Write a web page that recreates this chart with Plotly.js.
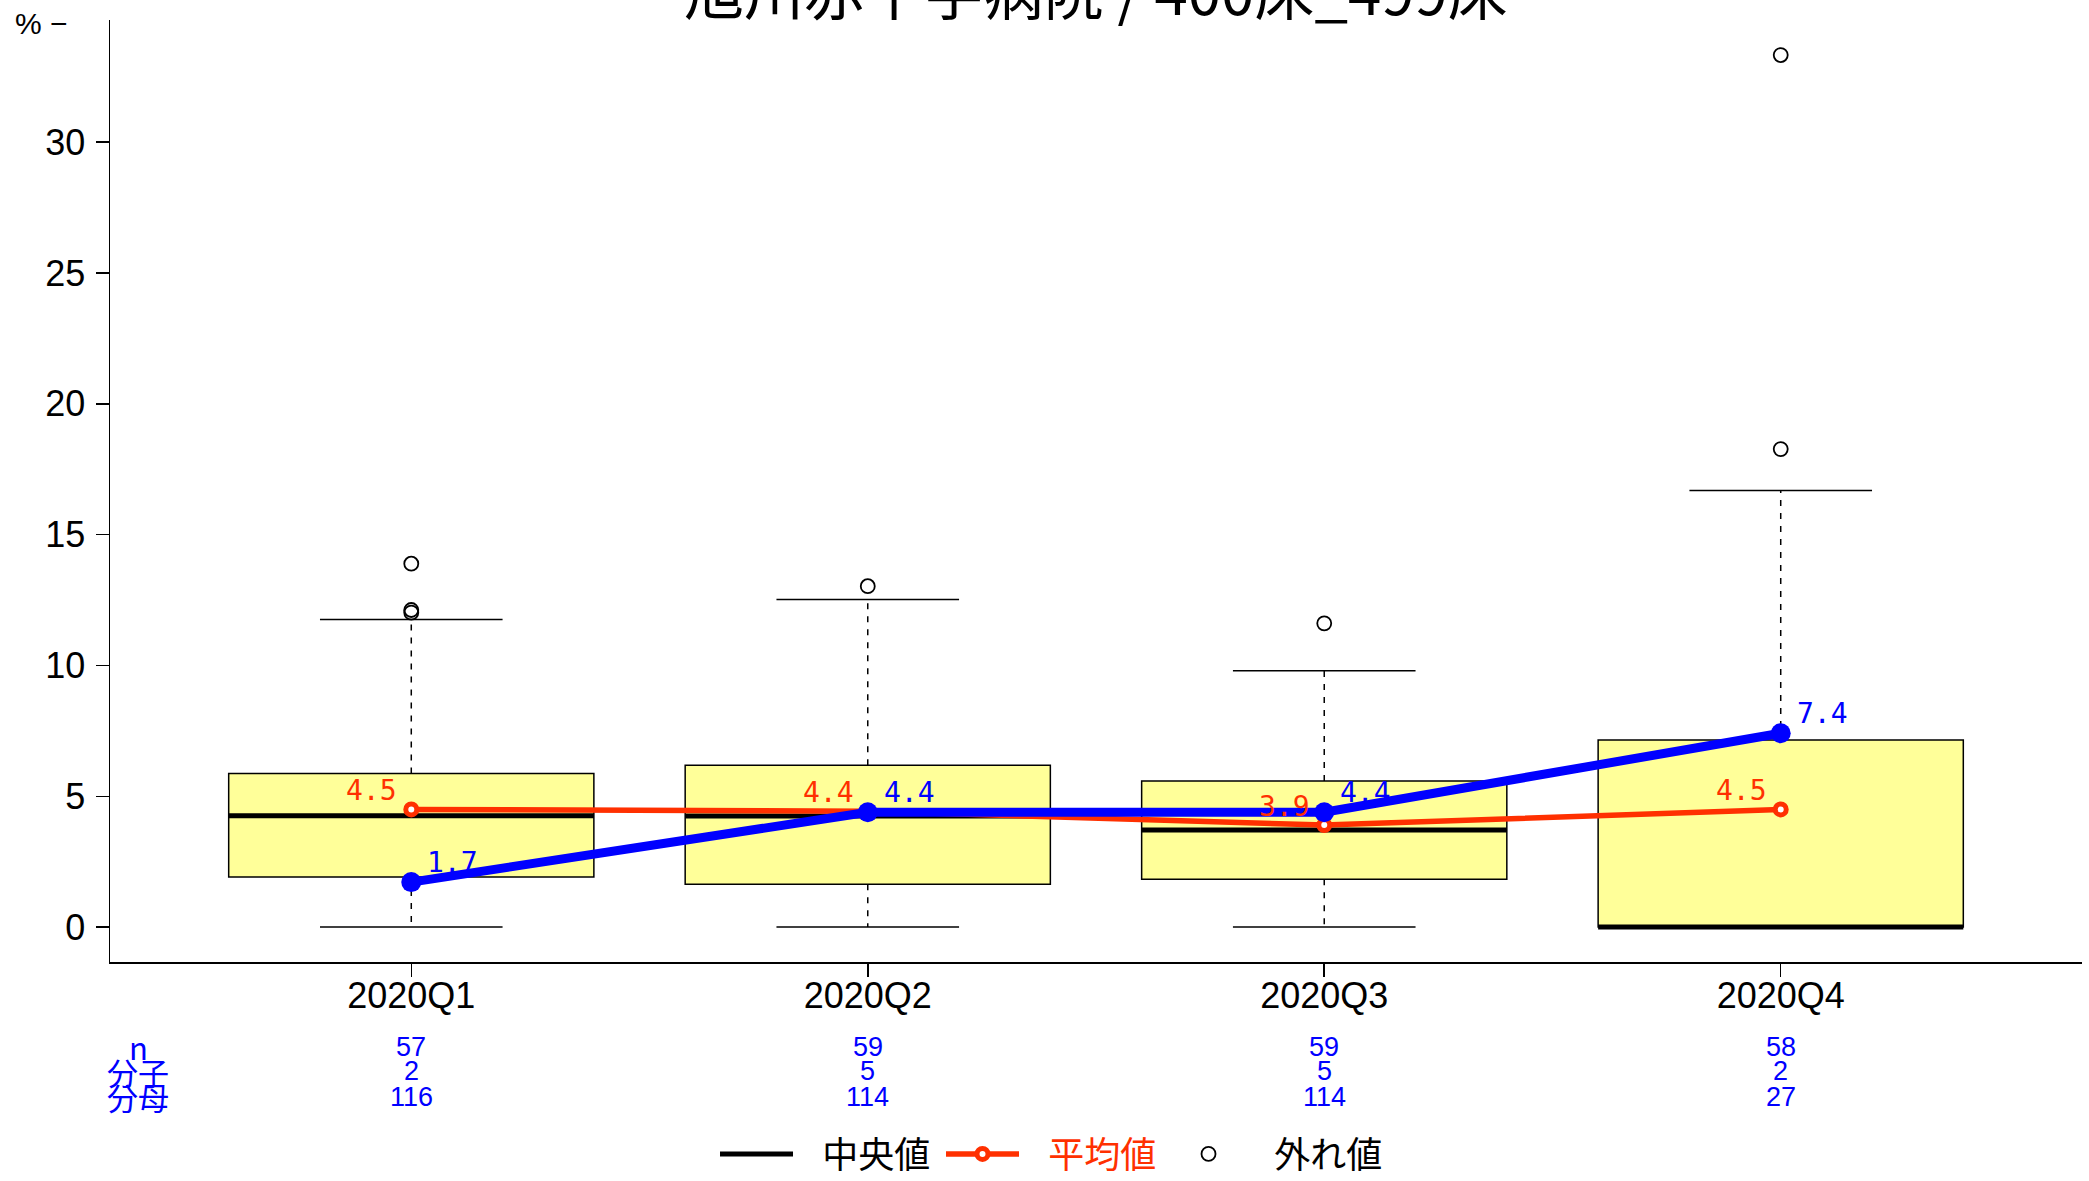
<!DOCTYPE html>
<html>
<head>
<meta charset="utf-8">
<script src="https://cdn.plot.ly/plotly-3.0.1.min.js"></script>
<style>html,body{margin:0;padding:0;background:#fff;}#chart{width:2089px;height:1181px;}</style>
</head>
<body>
<div id="chart"></div>
<script>
// ---- data ----
const categories = ['2020Q1', '2020Q2', '2020Q3', '2020Q4'];
const q1 = [1.92, 1.64, 1.83, 0.00];
const median = [4.26, 4.25, 3.71, 0.00];
const q3 = [5.87, 6.19, 5.58, 7.15];
const lowerWhisker = [0, 0, 0, 0];
const upperWhisker = [11.76, 12.52, 9.80, 16.69];
const outlierCat = [0, 0, 0, 1, 2, 3, 3];
const outlierVal = [13.89, 12.12, 12.02, 13.03, 11.61, 18.27, 33.33];
const meanVal = [4.50, 4.43, 3.90, 4.50];
const hospitalVal = [1.72, 4.39, 4.39, 7.41];
const nRow = [57, 59, 59, 58];
const numerRow = [2, 5, 5, 2];
const denomRow = [116, 114, 114, 27];
const rowLabels = ['n', '分子', '分母'];
const legendNames = ['中央値', '平均値', '外れ値'];
const titleText = '旭川赤十字病院 / 400床_499床';
const yUnit = '% −';

// ---- styles ----
const RED = '#FF3000';
const BLUE = '#0000FF';
const FONT = 'Liberation Sans, Arial, Noto Sans CJK JP, sans-serif';
const CJK = 'Noto Sans CJK JP, Liberation Sans, sans-serif';
const MONO = 'DejaVu Sans Mono, monospace';
const xs = categories.map((c, i) => i);
const boxW = 0.8, capHalf = 0.2;
const PADNAME = '\u00a0\u00a0\u00a0';

const whiskX = [], whiskY = [], capX = [], capY = [], medX = [], medY = [];
xs.forEach((x, i) => {
  whiskX.push(x, x, null, x, x, null);
  whiskY.push(q3[i], upperWhisker[i], null, q1[i], lowerWhisker[i], null);
  capX.push(x - capHalf, x + capHalf, null, x - capHalf, x + capHalf, null);
  capY.push(upperWhisker[i], upperWhisker[i], null, lowerWhisker[i], lowerWhisker[i], null);
  medX.push(x - boxW / 2, x + boxW / 2, null);
  medY.push(median[i], median[i], null);
});

const traces = [
  {
    type: 'box', x: xs, q1: q1, median: median, q3: q3,
    lowerfence: q1, upperfence: q3, width: boxW, whiskerwidth: 0,
    fillcolor: '#FFFF99', line: {color: '#000', width: 1.5},
    boxpoints: false, showlegend: false, hoverinfo: 'skip'
  },
  {
    type: 'scatter', mode: 'lines', x: whiskX, y: whiskY,
    line: {color: '#000', width: 1.5, dash: '6px,7px'},
    showlegend: false, hoverinfo: 'skip'
  },
  {
    type: 'scatter', mode: 'lines', x: capX, y: capY,
    line: {color: '#000', width: 1.5},
    showlegend: false, hoverinfo: 'skip'
  },
  {
    type: 'scatter', mode: 'lines', x: medX, y: medY, name: PADNAME + legendNames[0],
    line: {color: '#000', width: 5}, legendrank: 1
  },
  {
    type: 'scatter', mode: 'markers', x: outlierCat, y: outlierVal, name: PADNAME + legendNames[2],
    marker: {symbol: 'circle-open', size: 14, color: '#000', line: {width: 1.8, color: '#000'}},
    legendrank: 3
  },
  {
    type: 'scatter', mode: 'lines+markers', x: xs, y: meanVal,
    name: PADNAME + '<span style="color:' + RED + '">' + legendNames[1] + '</span>',
    line: {color: RED, width: 5.5},
    marker: {symbol: 'circle', size: 11, color: '#fff', line: {color: RED, width: 5}},
    legendrank: 2
  },
  {
    type: 'scatter', mode: 'lines+markers', x: xs, y: hospitalVal,
    line: {color: BLUE, width: 9},
    marker: {symbol: 'circle', size: 20, color: BLUE},
    showlegend: false
  }
];

const annotations = [];
// value labels next to mean / hospital points
xs.forEach((x, i) => {
  annotations.push({
    xref: 'x', yref: 'y', x: x, y: meanVal[i], text: meanVal[i].toFixed(1),
    showarrow: false, xanchor: 'right', yanchor: 'middle', xshift: -12, yshift: 19,
    font: {family: MONO, size: 28, color: RED}
  });
  annotations.push({
    xref: 'x', yref: 'y', x: x, y: hospitalVal[i], text: hospitalVal[i].toFixed(1),
    showarrow: false, xanchor: 'left', yanchor: 'middle', xshift: 14, yshift: 20,
    font: {family: MONO, size: 28, color: BLUE}
  });
});

// stats table annotations
const rowY = [-0.0902, -0.1162, -0.1433];
const rows = [nRow, numerRow, denomRow];
rows.forEach((row, r) => {
  row.forEach((v, i) => {
    annotations.push({
      xref: 'x', yref: 'paper', x: xs[i], y: rowY[r], text: String(v),
      showarrow: false, xanchor: 'center', yanchor: 'middle',
      font: {family: FONT, size: 27, color: BLUE}
    });
  });
  annotations.push({
    xref: 'paper', yref: 'paper', x: 0.0142, y: rowY[r], text: rowLabels[r],
    showarrow: false, xanchor: 'center', yanchor: 'middle',
    font: {family: CJK, size: 31, color: BLUE}
  });
});
annotations.push({
  xref: 'paper', yref: 'paper', x: -0.0492, y: 0.9958, text: yUnit,
  showarrow: false, xanchor: 'left', yanchor: 'middle',
  font: {family: FONT, size: 30, color: '#000'}
});

const layout = {
  width: 2089, height: 1181,
  margin: {l: 110, r: 7, t: 20, b: 219, autoexpand: false},
  paper_bgcolor: '#fff', plot_bgcolor: '#fff',
  title: {
    text: titleText, x: 0.5, xref: 'paper', xanchor: 'center',
    y: 0.9873, yref: 'container', yanchor: 'bottom',
    font: {family: CJK, size: 60, color: '#000'}
  },
  xaxis: {
    range: [-0.66, 3.66], tickvals: xs, ticktext: categories,
    showgrid: false, zeroline: false, showline: true, linecolor: '#000', linewidth: 1.5,
    ticks: 'outside', ticklen: 13, tickwidth: 1.5, tickcolor: '#000',
    ticklabelstandoff: -12,
    tickfont: {family: FONT, size: 36, color: '#000'}
  },
  yaxis: {
    range: [-1.333, 34.67], tickvals: [0, 5, 10, 15, 20, 25, 30],
    showgrid: false, zeroline: false, showline: true, linecolor: '#000', linewidth: 1.5,
    ticks: 'outside', ticklen: 13, tickwidth: 1.5, tickcolor: '#000',
    ticklabelstandoff: 3,
    tickfont: {family: FONT, size: 36, color: '#000'}
  },
  showlegend: true,
  legend: {
    orientation: 'h', x: 0.3068, xanchor: 'left', y: -0.2038, yanchor: 'middle',
    font: {family: CJK, size: 36, color: '#000'},
    itemwidth: 73, entrywidth: 138, traceorder: 'normal',
    bgcolor: 'rgba(0,0,0,0)'
  },
  annotations: annotations
};

Plotly.newPlot('chart', traces, layout, {displayModeBar: false, staticPlot: true});
</script>
</body>
</html>
